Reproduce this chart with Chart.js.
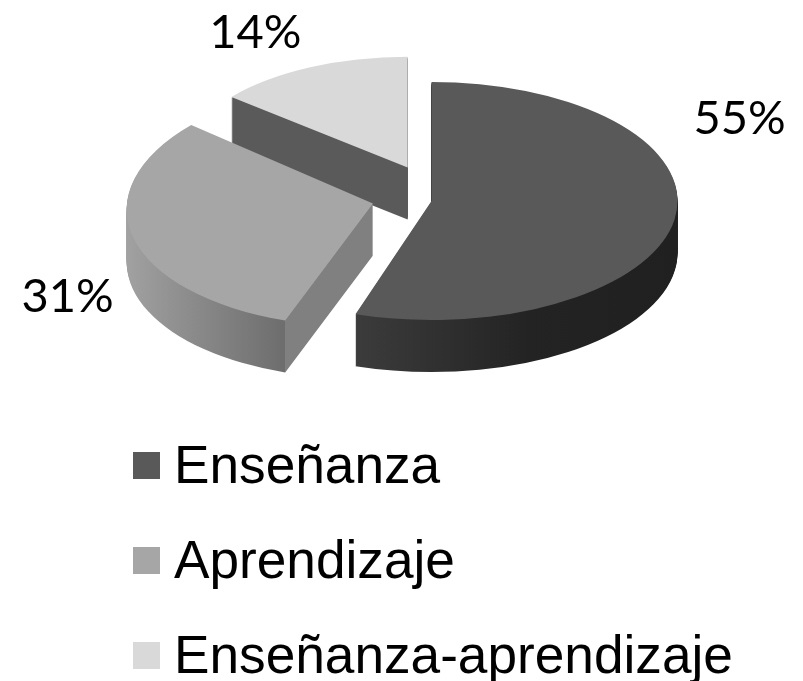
<!DOCTYPE html>
<html lang="es">
<head>
<meta charset="utf-8">
<title>Enseñanza y aprendizaje</title>
<script src="https://cdn.jsdelivr.net/npm/chart.js@4"></script>
<style>
    html, body { margin: 0; padding: 0; background: #fff; }
    body { position: relative; width: 803px; height: 681px; overflow: hidden; font-family: "Liberation Sans", Arial, sans-serif; }
    canvas { position: absolute; left: 0; top: 0; }
    #legend { position: absolute; left: 133px; top: 438px; }
    .row { position: relative; height: 53px; margin-bottom: 42px; padding-left: 41px; font-size: 53.2px; line-height: 53px; color: #000; white-space: nowrap; }
    .row:last-child { margin-bottom: 0; }
    .swatch { position: absolute; left: 0; top: 14px; width: 27px; height: 27px; }
</style>
</head>
<body>
<canvas id="pieChart" width="803" height="681"></canvas>
<div id="legend"></div>

<script>
// Chart data
const categories = ['Enseñanza', 'Aprendizaje', 'Enseñanza-aprendizaje'];
const percentages = [55, 31, 14];
const topColors = ['#595959', '#a6a6a6', '#d9d9d9'];

// Fake 3D look, Chart.js pies are flat so the plugin below tilts and extrudes them
const tilt = [0.484, 0.5, 0.484];
const shear = [0, 0.1, 0];
const depth = 52;
const pieCenterY = 201;
const explode = [0, 61, 56];
const lift = [0, -6, -9];
const sliceScale = [1, 1, 0.93];
const labelNudge = [[65, -101], [-69, 59], [-55, -34]];

// Wall shading: [position across the pie, colour], the last colour of slice 2 is its cut face
const wallStops = [
    [[0, '#3e3e3e'], [0.34, '#3c3c3c'], [0.7, '#232323'], [1, '#202020']],
    [[0, '#a2a2a2'], [0.34, '#6e6e6e']],
    [[0, '#5a5a5a'], [1, '#5a5a5a']]
];
const cutFaceColor = '#808080';

// Move the canvas so that one slice is drawn exploded and tilted, arc coordinates stay the library's
function placeSlice(ctx, arc, i, drop) {
    const mid = (arc.startAngle + arc.endAngle) / 2;
    const x = arc.x + Math.cos(mid) * explode[i];
    const y = pieCenterY + Math.sin(mid) * explode[i] * tilt[i] + lift[i] + drop;
    ctx.translate(x, y);
    ctx.transform(1, 0, -shear[i], 1, 0, 0);
    ctx.scale(sliceScale[i], sliceScale[i] * tilt[i]);
    ctx.translate(-arc.x, -arc.y);
}

function wallFill(ctx, arc, i) {
    const r = arc.outerRadius;
    const grad = ctx.createLinearGradient(arc.x - r, 0, arc.x + r, 0);
    wallStops[i].forEach(s => grad.addColorStop(s[0], s[1]));
    if (i === 1) {
        // hard edge where the round wall ends and the straight cut begins
        const edge = (1 + Math.cos(arc.startAngle)) / 2;
        grad.addColorStop(edge, wallStops[i][1][1]);
        grad.addColorStop(edge, cutFaceColor);
        grad.addColorStop(1, cutFaceColor);
    }
    return grad;
}

const pie3d = {
    id: 'pie3d',
    beforeDatasetDraw(chart, args) {
        const ctx = chart.ctx;
        const arcs = args.meta.data;
        // back slice first, front slice last
        for (let i = arcs.length - 1; i >= 0; i--) {
            const arc = arcs[i];
            for (let drop = depth; drop > 0; drop--) {
                ctx.save();
                placeSlice(ctx, arc, i, drop);
                ctx.beginPath();
                ctx.moveTo(arc.x, arc.y);
                ctx.arc(arc.x, arc.y, arc.outerRadius, arc.startAngle, arc.endAngle);
                ctx.closePath();
                ctx.fillStyle = wallFill(ctx, arc, i);
                ctx.fill();
                ctx.restore();
            }
            ctx.save();
            placeSlice(ctx, arc, i, 0);
            arc.draw(ctx);
            ctx.restore();
        }
        return false; // already drawn
    },
    afterDatasetsDraw(chart) {
        const ctx = chart.ctx;
        const arcs = chart.getDatasetMeta(0).data;
        ctx.save();
        ctx.font = '47px Lato, "Liberation Sans", sans-serif';
        ctx.fillStyle = '#000';
        ctx.textAlign = 'center';
        ctx.textBaseline = 'middle';
        arcs.forEach((arc, i) => {
            const mid = (arc.startAngle + arc.endAngle) / 2;
            const r = arc.outerRadius * sliceScale[i];
            const x = arc.x + Math.cos(mid) * (explode[i] + r);
            const y = pieCenterY + lift[i] + Math.sin(mid) * (explode[i] + r) * tilt[i];
            ctx.fillText(percentages[i] + '%', x + labelNudge[i][0], y + labelNudge[i][1]);
        });
        ctx.restore();
    }
};

const chart = new Chart(document.getElementById('pieChart'), {
    type: 'pie',
    data: {
        labels: categories,
        datasets: [{
            data: percentages,
            backgroundColor: topColors,
            borderWidth: 0
        }]
    },
    options: {
        responsive: false,
        animation: false,
        layout: { padding: { left: 60, top: 0, bottom: 189 } },
        plugins: {
            legend: { display: false },
            tooltip: { enabled: false }
        }
    },
    plugins: [pie3d]
});

// Legend as plain html, a Chart.js bottom legend would not stack these rows
const legendBox = document.getElementById('legend');
chart.data.labels.forEach((label, i) => {
    const row = document.createElement('div');
    row.className = 'row';
    const swatch = document.createElement('span');
    swatch.className = 'swatch';
    swatch.style.background = chart.data.datasets[0].backgroundColor[i];
    row.appendChild(swatch);
    row.appendChild(document.createTextNode(label));
    legendBox.appendChild(row);
});
</script>
</body>
</html>
